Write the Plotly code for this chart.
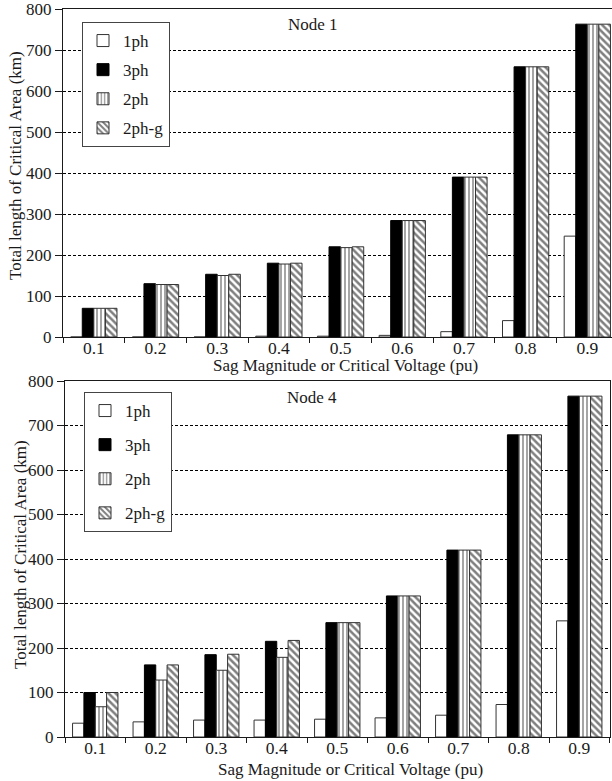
import plotly.graph_objects as go

categories = ["0.1", "0.2", "0.3", "0.4", "0.5", "0.6", "0.7", "0.8", "0.9"]
series_names = ["1ph", "3ph", "2ph", "2ph-g"]

# Node 1 values (km)
node1_1ph = [0, 0, 0, 2, 2, 4, 13, 40, 246]
node1_3ph = [70, 130, 153, 180, 220, 284, 390, 659, 763]
node1_2ph = [70, 128, 150, 178, 218, 284, 390, 659, 763]
node1_2phg = [70, 128, 153, 180, 220, 284, 390, 659, 763]

# Node 4 values (km)
node4_1ph = [31, 34, 38, 38, 40, 43, 49, 73, 261]
node4_3ph = [100, 162, 185, 215, 257, 317, 420, 679, 766]
node4_2ph = [68, 128, 150, 179, 257, 317, 420, 679, 766]
node4_2phg = [100, 162, 186, 217, 257, 317, 420, 679, 766]

y_ticks = [0, 100, 200, 300, 400, 500, 600, 700, 800]

W, H = 612, 781
FONT = "Liberation Serif, Times New Roman, serif"
INK = "#1a1a1a"


def py(p):
    return 1 - p / H


def px_(p):
    return p / W


styles = [
    dict(color="white", line=dict(color="#333", width=1)),
    dict(color="black", line=dict(color="black", width=1)),
    dict(color="white", line=dict(color="#333", width=1),
         pattern=dict(shape="|", fgcolor="black", bgcolor="white", size=4, solidity=0.35)),
    dict(color="white", line=dict(color="#333", width=1),
         pattern=dict(shape="\\", fgcolor="black", bgcolor="white", size=5, solidity=0.5)),
]

fig = go.Figure()

top_data = [node1_1ph, node1_3ph, node1_2ph, node1_2phg]
bot_data = [node4_1ph, node4_3ph, node4_2ph, node4_2phg]

for name, vals, st in zip(series_names, top_data, styles):
    fig.add_trace(go.Bar(x=categories, y=vals, name=name, marker=st,
                         xaxis="x", yaxis="y", legend="legend",
                         legendgroup="top" + name))
for name, vals, st in zip(series_names, bot_data, styles):
    fig.add_trace(go.Bar(x=categories, y=vals, name=name, marker=st,
                         xaxis="x2", yaxis="y2", legend="legend2",
                         legendgroup="bot" + name))

axis_font = dict(family=FONT, size=17, color=INK)

common_x = dict(type="category", tickson="boundaries", ticks="outside", ticklen=5,
                tickcolor=INK, showline=True, linecolor=INK, linewidth=1,
                showgrid=False, automargin=False, ticklabeloverflow="allow",
                ticklabelstandoff=-5,
                tickfont=dict(family=FONT, size=17.5, color=INK))
common_y = dict(range=[0, 800], tickvals=y_ticks, ticks="outside", ticklen=7,
                tickcolor=INK, showline=True, linecolor=INK, linewidth=1,
                showgrid=True, gridcolor="black", gridwidth=1, griddash="3px,2px",
                zeroline=False, automargin=False, ticklabeloverflow="allow",
                tickfont=dict(family=FONT, size=17, color=INK))


def ann(text, x, y, angle=0):
    return dict(text=text, x=px_(x), y=py(y), xref="paper", yref="paper",
                xanchor="center", yanchor="middle", showarrow=False,
                textangle=angle, font=axis_font)


fig.update_layout(
    width=W, height=H,
    margin=dict(l=0, r=0, t=0, b=0, autoexpand=False),
    paper_bgcolor="white", plot_bgcolor="white",
    barmode="group", bargap=0.25, bargroupgap=0,
    showlegend=True,
    xaxis=dict(common_x, domain=[px_(63), 1.0], range=[-0.5, 8.40],
               anchor="y", mirror=True),
    yaxis=dict(common_y, domain=[py(337), py(9)], anchor="x", mirror=False),
    xaxis2=dict(common_x, domain=[px_(65), px_(609.5)], range=[-0.5, 8.5],
                anchor="y2", mirror=True),
    yaxis2=dict(common_y, domain=[py(737), py(381)], anchor="x2", mirror=True),
    legend=dict(x=px_(82), y=py(22), xanchor="left", yanchor="top",
                bgcolor="white", bordercolor="#444", borderwidth=1,
                font=dict(family=FONT, size=17, color=INK),
                traceorder="grouped", tracegroupgap=4),
    legend2=dict(x=px_(84), y=py(392), xanchor="left", yanchor="top",
                 bgcolor="white", bordercolor="#444", borderwidth=1,
                 font=dict(family=FONT, size=17, color=INK),
                 traceorder="grouped", tracegroupgap=9),
    annotations=[
        ann("Node 1", 313, 24),
        ann("Node 4", 312, 397),
        ann("Sag Magnitude or Critical Voltage (pu)", 345, 365),
        ann("Sag Magnitude or Critical Voltage (pu)", 350, 769),
        ann("Total length of Critical Area (km)", 16, 166, -90),
        ann("Total length of Critical Area (km)", 20, 555, -90),
    ],
)

fig.write_html("out.html",
               config={"displayModeBar": False},
               post_script="document.body.style.margin='0';document.body.style.overflow='hidden';")
